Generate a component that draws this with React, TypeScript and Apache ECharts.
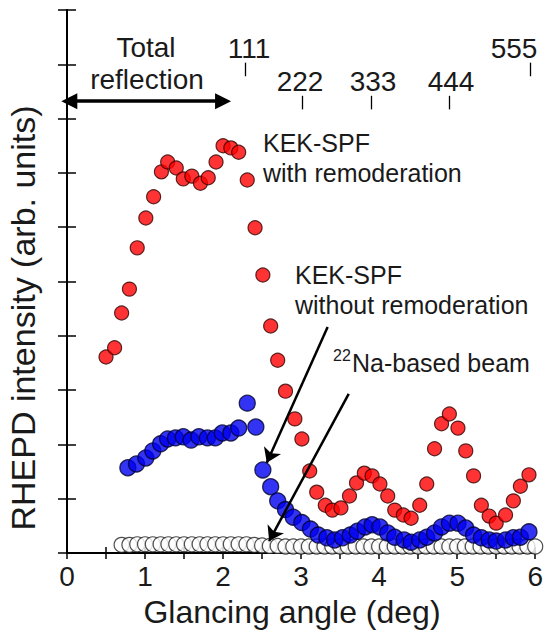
import React, { useEffect, useRef } from 'react';
import * as echarts from 'echarts';

// ---- data ----
const xTickValues = [0, 1, 2, 3, 4, 5, 6];

// KEK-SPF with remoderation (red)
const remodX = [0.50, 0.61, 0.70, 0.80, 0.90, 1.01, 1.11, 1.21, 1.29, 1.40, 1.49, 1.60, 1.71, 1.81, 1.91, 2.00, 2.10, 2.20, 2.31, 2.41, 2.51, 2.61, 2.70,
  2.80, 2.92, 3.01, 3.11, 3.20, 3.31, 3.40, 3.51, 3.62, 3.71, 3.81, 3.91, 4.01, 4.11, 4.20, 4.31, 4.41, 4.52, 4.61, 4.71, 4.80, 4.90, 5.01, 5.11, 5.21, 5.31, 5.41, 5.50, 5.62, 5.72, 5.81, 5.92];
const remodY = [3.61, 3.78, 4.42, 4.86, 5.62, 6.17, 6.56, 7.02, 7.20, 7.09, 6.89, 6.94, 6.81, 6.91, 7.20, 7.50, 7.46, 7.38, 6.87, 5.99, 5.12, 4.18, 3.55,
  2.98, 2.47, 2.10, 1.51, 1.12, 0.88, 0.79, 0.83, 1.05, 1.29, 1.47, 1.42, 1.27, 1.05, 0.79, 0.70, 0.64, 0.88, 1.27, 1.92, 2.38, 2.56, 2.30, 1.88, 1.42, 0.88, 0.68, 0.55, 0.70, 0.96, 1.23, 1.44];

// KEK-SPF without remoderation (blue)
const noRemodX = [0.78, 0.89, 1.01, 1.10, 1.20, 1.29, 1.39, 1.49, 1.59, 1.69, 1.80, 1.90, 1.99, 2.10, 2.20, 2.31, 2.42, 2.51, 2.61, 2.70, 2.80, 2.90,
  3.01, 3.12, 3.22, 3.33, 3.43, 3.53, 3.63, 3.72, 3.82, 3.91, 4.01, 4.11, 4.20, 4.32, 4.41, 4.52, 4.61, 4.71, 4.80, 4.90, 5.01, 5.11, 5.21, 5.31, 5.41, 5.50, 5.62, 5.72, 5.81, 5.92];
const noRemodY = [1.57, 1.64, 1.75, 1.88, 2.01, 2.10, 2.12, 2.14, 2.08, 2.14, 2.12, 2.12, 2.21, 2.21, 2.30, 2.76, 2.32, 1.53, 1.22, 0.96, 0.80, 0.66,
  0.56, 0.44, 0.33, 0.28, 0.24, 0.28, 0.33, 0.40, 0.48, 0.52, 0.48, 0.37, 0.29, 0.24, 0.20, 0.24, 0.29, 0.37, 0.48, 0.55, 0.55, 0.46, 0.33, 0.28, 0.24, 0.22, 0.24, 0.28, 0.29, 0.39];

// 22Na-based beam (white)
const naX = [0.7, 0.8, 0.9, 1.0, 1.1, 1.2, 1.3, 1.4, 1.5, 1.6, 1.7, 1.8, 1.9, 2.0, 2.1, 2.2, 2.3, 2.4, 2.5, 2.6, 2.7, 2.8, 2.9,
  3.0, 3.1, 3.2, 3.3, 3.4, 3.5, 3.6, 3.7, 3.8, 3.9, 4.0, 4.1, 4.2, 4.3, 4.4, 4.5, 4.6, 4.7, 4.8, 4.9, 5.0, 5.1, 5.2, 5.3, 5.4, 5.5, 5.6, 5.7, 5.8, 5.9, 6.0];
const naY = [0.15, 0.15, 0.16, 0.16, 0.16, 0.16, 0.16, 0.16, 0.16, 0.16, 0.16, 0.16, 0.16, 0.16, 0.16, 0.16, 0.16, 0.15, 0.14, 0.13, 0.13, 0.12, 0.12,
  0.12, 0.12, 0.12, 0.12, 0.12, 0.12, 0.12, 0.12, 0.12, 0.12, 0.12, 0.12, 0.12, 0.12, 0.12, 0.12, 0.12, 0.12, 0.12, 0.12, 0.12, 0.12, 0.12, 0.12, 0.12, 0.12, 0.12, 0.12, 0.12, 0.12, 0.12];

// Bragg reflection markers
const hklLabels = ['111', '222', '333', '444', '555'];
const hklAngles = [2.29, 3.01, 3.90, 4.90, 5.94];

const FONT = '"Liberation Sans", Arial, sans-serif';
const TXT = '#1a1a1a';

const W = 546;
const H = 639;
const G = { left: 67, right: 8, top: 10, bottom: 86 };

export default function App() {
  const ref = useRef<HTMLDivElement>(null);

  useEffect(() => {
    if (!ref.current) return;
    const chart = echarts.init(ref.current, undefined, { renderer: 'svg' });

    const pair = (xs: number[], ys: number[]) => xs.map((x, i) => [x, ys[i]]);

    const hklTicks = hklAngles.map((a, i) => {
      const high = i === 0 || i === 4;
      return [
        { coord: [a, high ? 9.03 : 8.42] },
        { coord: [a, high ? 8.78 : 8.17] },
      ];
    });

    const xAxisCommon = {
      type: 'value',
      min: 0,
      max: 6,
      interval: 0.5,
      splitLine: { show: false },
      axisLine: { show: true, lineStyle: { color: '#000', width: 2 } },
      axisTick: { show: true, inside: true, length: 6, lineStyle: { color: '#000', width: 1.5 } },
    };
    const yAxisCommon = {
      type: 'value',
      min: 0,
      max: 10,
      interval: 1,
      splitLine: { show: false },
      axisLine: { show: true, lineStyle: { color: '#000', width: 2 } },
      axisTick: { show: true, inside: true, length: 9, lineStyle: { color: '#000', width: 1.5 } },
      axisLabel: { show: false },
    };

    const txt = (x: number, y: number, text: string, size: number, align: string = 'center') => ({
      type: 'text',
      x,
      y,
      style: { text, font: `${size}px ${FONT}`, fill: TXT, textAlign: align, textVerticalAlign: 'middle' },
    });

    const option: any = {
      animation: false,
      backgroundColor: '#fff',
      grid: { ...G, containLabel: false },
      xAxis: [
        {
          ...xAxisCommon,
          position: 'bottom',
          axisLabel: {
            show: true,
            margin: 9,
            fontSize: 28,
            fontFamily: FONT,
            color: TXT,
            formatter: (v: number) => (xTickValues.includes(v) ? String(v) : ''),
          },
        },
        { ...xAxisCommon, position: 'top', axisLabel: { show: false } },
      ],
      yAxis: [
        { ...yAxisCommon, position: 'left' },
        { ...yAxisCommon, position: 'right' },
      ],
      series: [
        {
          name: '22Na-based beam',
          type: 'scatter',
          symbol: 'circle',
          symbolSize: 15,
          data: pair(naX, naY),
          itemStyle: { color: '#fff', borderColor: '#222', borderWidth: 1.2 },
          markLine: {
            silent: true,
            symbol: ['none', 'none'],
            label: { show: false },
            lineStyle: { color: '#000', width: 1.3, type: 'solid' },
            data: hklTicks,
          },
        },
        {
          name: 'KEK-SPF without remoderation',
          type: 'scatter',
          symbol: 'circle',
          symbolSize: 16,
          data: pair(noRemodX, noRemodY),
          itemStyle: { color: '#0000f0', borderColor: '#00002a', borderWidth: 1.3 },
        },
        {
          name: 'KEK-SPF with remoderation',
          type: 'scatter',
          symbol: 'circle',
          symbolSize: 14,
          data: pair(remodX, remodY),
          itemStyle: { color: '#ff0000', borderColor: '#300000', borderWidth: 1.2 },
          markLine: {
            silent: true,
            symbol: ['none', 'arrow'],
            symbolSize: 14,
            label: { show: false },
            lineStyle: { color: '#000', width: 2.5, type: 'solid' },
            data: [
              [{ coord: [3.34, 4.16] }, { coord: [2.56, 1.66] }],
              [{ coord: [3.61, 2.93] }, { coord: [2.59, 0.22] }],
              [
                { coord: [0.03, 8.32], symbol: 'triangle', symbolSize: 16, lineStyle: { width: 3.5 } },
                { coord: [2.0, 8.32], symbol: 'triangle', symbolSize: 16, lineStyle: { width: 3.5 } },
              ],
            ],
          },
        },
      ],
      graphic: [
        // axis titles
        {
          type: 'text',
          x: 23,
          y: 318,
          rotation: Math.PI / 2,
          style: { text: 'RHEPD intensity (arb. units)', font: `34px ${FONT}`, fill: TXT, textAlign: 'center', textVerticalAlign: 'middle' },
        },
        txt(292, 612, 'Glancing angle (deg)', 32),
        // total reflection
        txt(146, 47, 'Total', 28),
        txt(147, 79, 'reflection', 28),
        // hkl labels
        txt(249, 48, hklLabels[0], 28),
        txt(300, 81, hklLabels[1], 28),
        txt(373, 81, hklLabels[2], 28),
        txt(451, 81, hklLabels[3], 28),
        txt(514, 48, hklLabels[4], 28),
        // series labels
        txt(263, 143, 'KEK-SPF', 25, 'left'),
        txt(263, 173, 'with remoderation', 25, 'left'),
        txt(295, 275, 'KEK-SPF', 25, 'left'),
        txt(295, 305, 'without remoderation', 25, 'left'),
        txt(333, 355, '22', 16, 'left'),
        txt(352, 363, 'Na-based beam', 25, 'left'),
      ],
    };

    chart.setOption(option);
    return () => chart.dispose();
  }, []);

  return <div ref={ref} style={{ position: 'fixed', left: 0, top: 0, width: W, height: H, background: '#fff' }} />;
}
